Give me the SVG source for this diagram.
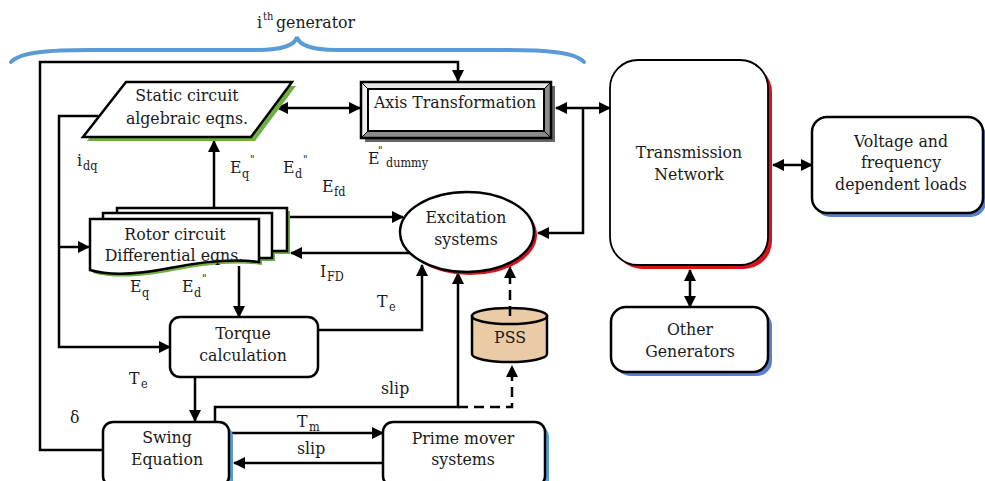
<svg xmlns="http://www.w3.org/2000/svg" width="985" height="481" viewBox="0 0 985 481">
  <defs>
    <marker id="arrow" viewBox="0 0 12 12" refX="11" refY="6" markerWidth="12" markerHeight="12" markerUnits="userSpaceOnUse" orient="auto-start-reverse">
      <path d="M0,0 L12,6 L0,12 z" fill="#000"/>
    </marker>
    <style>
      text { font-family: 'DejaVu Serif', serif; font-stretch: condensed; font-size: 17.5px; fill: #1a1a1a; }
      .c { text-anchor: middle; }
      .sub { font-size: 12.5px; }
      .sup { font-size: 11px; }
      .box { fill: #fff; stroke: #000; stroke-width: 2.5; }
      .thin { fill: #fff; stroke: #000; stroke-width: 1.8; }
      .wire { fill: none; stroke: #000; stroke-width: 2.5; }
      .dash { fill: none; stroke: #000; stroke-width: 2.5; stroke-dasharray: 10 6; }
      .green { fill: #6fae45; }
      .red { fill: #d2151d; }
      .blue { fill: #5b9bd5; }
      .navy { fill: #5b7fd1; }
    </style>
  </defs>

  <!-- brace over the generator model -->
  <g id="brace">
    <path d="M11,62 C20,52 50,50 90,50 L258,50 C282,50 295,45 297,37 C299,45 312,50 336,50 L505,50 C545,50 575,52 584,62" fill="none" stroke="#5b9bd5" stroke-width="4" stroke-linecap="round"/>
    <text x="257" y="28">i<tspan class="sup" x="263" y="20">th</tspan><tspan x="276" y="28">generator</tspan></text>
  </g>

  <!-- connectors -->
  <g id="connectors">
    <path class="wire" d="M103,450 H40 V62 H458 V81" marker-end="url(#arrow)"/>
    <path class="wire" d="M277,108 H360" marker-start="url(#arrow)" marker-end="url(#arrow)"/>
    <path class="wire" d="M556,108 H610" marker-start="url(#arrow)" marker-end="url(#arrow)"/>
    <path class="wire" d="M583,108 V233 H538" marker-end="url(#arrow)"/>
    <path class="wire" d="M98,116 H59 V347 H170" marker-end="url(#arrow)"/>
    <path class="wire" d="M59,247 H89" marker-end="url(#arrow)"/>
    <path class="wire" d="M214,208 V141" marker-end="url(#arrow)"/>
    <path class="wire" d="M290,217 H403" marker-end="url(#arrow)"/>
    <path class="wire" d="M410,253 H291" marker-end="url(#arrow)"/>
    <path class="wire" d="M239,266 V317" marker-end="url(#arrow)"/>
    <path class="wire" d="M318,330 H422 V265" marker-end="url(#arrow)"/>
    <path class="wire" d="M195,377 V421" marker-end="url(#arrow)"/>
    <path class="wire" d="M215,422 V407 H458 V273" marker-end="url(#arrow)"/>
    <path class="dash" d="M458,407 H512 V366" marker-end="url(#arrow)"/>
    <path class="dash" d="M510,316 V267" marker-end="url(#arrow)"/>
    <path class="wire" d="M230,433 H383" marker-end="url(#arrow)"/>
    <path class="wire" d="M383,463 H234" marker-end="url(#arrow)"/>
    <path class="wire" d="M773,165 H812" marker-start="url(#arrow)" marker-end="url(#arrow)"/>
    <path class="wire" d="M690,270 V307" marker-start="url(#arrow)" marker-end="url(#arrow)"/>
  </g>

  <!-- signal labels -->
  <g id="labels">
    <text x="77" y="166">i<tspan class="sub" x="83" y="170">dq</tspan></text>
    <text x="230" y="173">E<tspan class="sub" x="242" y="178">q</tspan><tspan class="sup" x="250" y="163">"</tspan></text>
    <text x="283" y="173">E<tspan class="sub" x="295" y="178">d</tspan><tspan class="sup" x="303" y="163">"</tspan></text>
    <text x="368" y="164">E<tspan class="sup" x="378" y="154">"</tspan><tspan class="sub" x="386" y="167">dummy</tspan></text>
    <text x="322" y="192">E<tspan class="sub" x="334" y="196">fd</tspan></text>
    <text x="320" y="277">I<tspan class="sub" x="327" y="281">FD</tspan></text>
    <text x="377" y="307">T<tspan class="sub" x="389" y="311">e</tspan></text>
    <text x="130" y="292">E<tspan class="sub" x="142" y="297">q</tspan></text>
    <text x="182" y="292">E<tspan class="sub" x="194" y="297">d</tspan><tspan class="sup" x="202" y="282">"</tspan></text>
    <text x="129" y="384">T<tspan class="sub" x="141" y="388">e</tspan></text>
    <text x="70" y="423">δ</text>
    <text x="381" y="394">slip</text>
    <text x="297" y="427">T<tspan class="sub" x="309" y="431">m</tspan></text>
    <text x="297" y="454">slip</text>
  </g>

  <g id="static-circuit">
    <polygon class="green" points="130,86 296,86 255,141 87,141"/>
    <polygon class="box" points="126,82 292,82 251,137 83,137"/>
    <text class="c" x="187" y="101">Static circuit</text>
    <text class="c" x="187" y="124">algebraic eqns.</text>
  </g>

  <g id="axis-transformation">
    <rect x="365" y="86" width="190" height="56" fill="#666"/>
    <rect x="361" y="82" width="190" height="56" fill="#fff"/>
    <polygon points="361,82 551,82 544,89 368,89" fill="#e6e6e6"/>
    <polygon points="361,82 368,89 368,131 361,138" fill="#efefef"/>
    <polygon points="551,82 551,138 544,131 544,89" fill="#8c8c8c"/>
    <polygon points="361,138 551,138 544,131 368,131" fill="#8c8c8c"/>
    <path d="M361,82 L368,89 M551,82 L544,89 M551,138 L544,131 M361,138 L368,131" stroke="#000" stroke-width="1"/>
    <rect x="361" y="82" width="190" height="56" fill="none" stroke="#000" stroke-width="2.5"/>
    <rect x="368" y="89" width="176" height="42" fill="none" stroke="#000" stroke-width="2"/>
    <text class="c" x="455" y="108">Axis Transformation</text>
  </g>

  <g id="rotor-circuit">
    <g transform="translate(3,3)">
      <rect class="green" x="117" y="208" width="170" height="43"/>
      <rect class="green" x="103" y="213" width="169" height="45"/>
      <path class="green" d="M90,219 H259 V262 C230,258 200,262 170,268 C140,274 110,276 90,270 Z"/>
    </g>
    <rect class="box" x="117" y="208" width="170" height="43"/>
    <rect class="box" x="103" y="213" width="169" height="45"/>
    <path class="box" d="M90,219 H259 V262 C230,258 200,262 170,268 C140,274 110,276 90,270 Z"/>
    <text class="c" x="175" y="240">Rotor circuit</text>
    <text class="c" x="174" y="261">Differential eqns.</text>
  </g>

  <g id="excitation-systems">
    <ellipse class="red" cx="470" cy="235" rx="67" ry="40"/>
    <ellipse class="box" cx="467" cy="232" rx="67" ry="40"/>
    <text class="c" x="466" y="223">Excitation</text>
    <text class="c" x="466" y="245">systems</text>
  </g>

  <g id="torque-calculation">
    <rect class="box" x="170" y="317" width="148" height="60" rx="10"/>
    <text class="c" x="243" y="339">Torque</text>
    <text class="c" x="243" y="361">calculation</text>
  </g>

  <g id="pss">
    <path d="M472,316 V354 A37.5,8 0 0 0 547,354 V316 Z" fill="#ebcba5" stroke="#000" stroke-width="2.5"/>
    <ellipse cx="509.5" cy="316" rx="37.5" ry="8" fill="#ebcba5" stroke="#000" stroke-width="2.5"/>
    <line x1="510" y1="308" x2="510" y2="316" stroke="#000" stroke-width="2.5"/>
    <text class="c" x="510" y="343">PSS</text>
  </g>

  <g id="swing-equation">
    <rect class="blue" x="107" y="426" width="126" height="64" rx="10"/>
    <rect class="box" x="103" y="422" width="126" height="64" rx="10"/>
    <text class="c" x="167" y="443">Swing</text>
    <text class="c" x="167" y="465">Equation</text>
  </g>

  <g id="prime-mover">
    <rect class="blue" x="387" y="426" width="162" height="64" rx="10"/>
    <rect class="box" x="383" y="422" width="162" height="64" rx="10"/>
    <text class="c" x="463" y="444">Prime mover</text>
    <text class="c" x="463" y="465">systems</text>
  </g>

  <g id="transmission-network">
    <rect class="red" x="614" y="64" width="158" height="205" rx="28"/>
    <rect class="thin" x="610" y="60" width="158" height="205" rx="28"/>
    <text class="c" x="689" y="158">Transmission</text>
    <text class="c" x="689" y="180">Network</text>
  </g>

  <g id="loads">
    <rect class="navy" x="815" y="121" width="171" height="96" rx="15"/>
    <rect class="box" x="812" y="117" width="171" height="96" rx="15"/>
    <text class="c" x="901" y="147">Voltage and</text>
    <text class="c" x="901" y="168">frequency</text>
    <text class="c" x="901" y="190">dependent loads</text>
  </g>

  <g id="other-generators">
    <rect class="navy" x="615" y="311" width="157" height="65" rx="15"/>
    <rect class="box" x="611" y="307" width="157" height="65" rx="15"/>
    <text class="c" x="690" y="335">Other</text>
    <text class="c" x="690" y="357">Generators</text>
  </g>
</svg>
